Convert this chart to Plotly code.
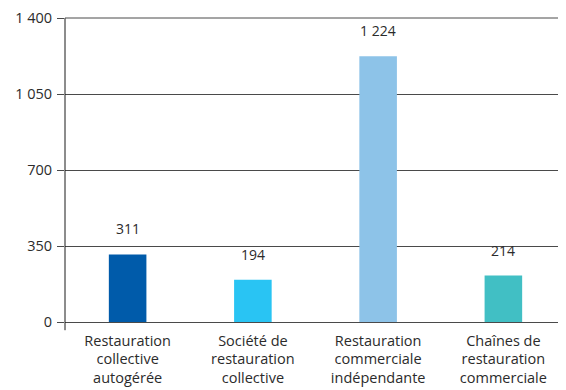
import plotly.graph_objects as go

categories = [
    "Restauration<br>collective<br>autogérée",
    "Société de<br>restauration<br>collective",
    "Restauration<br>commerciale<br>indépendante",
    "Chaînes de<br>restauration<br>commerciale",
]
values = [311, 194, 1224, 214]
value_labels = ["311", "194", "1 224", "214"]
bar_colors = ["#005BAA", "#29C4F3", "#8DC3E8", "#41BFC4"]
y_ticks = [0, 350, 700, 1050, 1400]
y_tick_text = ["0", "350", "700", "1 050", "1 400"]

FONT = "Open Sans, Lato, sans-serif"
TXT = "#2b2b2b"
GRID = "#4a4a4a"

fig = go.Figure()
fig.add_trace(go.Bar(x=categories, y=values, marker_color=bar_colors,
                     marker_line_width=0, width=0.3,
                     text=value_labels, textposition="none",
                     hoverinfo="x+y"))

for c, v, t in zip(categories, values, value_labels):
    fig.add_annotation(x=c, y=v, text=t, showarrow=False, yanchor="bottom",
                       yshift=14, font=dict(size=14, color=TXT, family=FONT))

# axis line runs a little below zero, as in the source
fig.add_shape(type="line", xref="paper", yref="paper", x0=0, x1=0,
              y0=-0.027, y1=1, line=dict(color="#1a1a1a", width=1))
# plotly drops the gridline sitting on the top edge; draw it as a frame line
fig.add_shape(type="line", xref="paper", yref="paper", x0=0, x1=1,
              y0=1, y1=1, line=dict(color=GRID, width=1))

# page body keeps its default 8px margin, so the figure is sized to fit
fig.update_layout(
    width=558, height=382,
    margin=dict(l=57, r=0, t=10, b=68),
    paper_bgcolor="white", plot_bgcolor="white",
    font=dict(family=FONT, size=14, color=TXT),
    showlegend=False, bargap=0.7,
    xaxis=dict(showgrid=False, showline=False, ticks="", automargin=False,
               ticklabelstandoff=8, tickfont=dict(size=14.5, color=TXT)),
    yaxis=dict(range=[0, 1400], tickvals=y_ticks, ticktext=y_tick_text,
               showgrid=True, gridcolor=GRID, gridwidth=1,
               ticks="outside", ticklen=7, tickcolor=GRID,
               zeroline=True, zerolinecolor=GRID, zerolinewidth=1,
               showline=False, automargin=False, ticklabelstandoff=2,
               tickfont=dict(size=14.5, color=TXT)),
)

fig.write_html("out.html")
